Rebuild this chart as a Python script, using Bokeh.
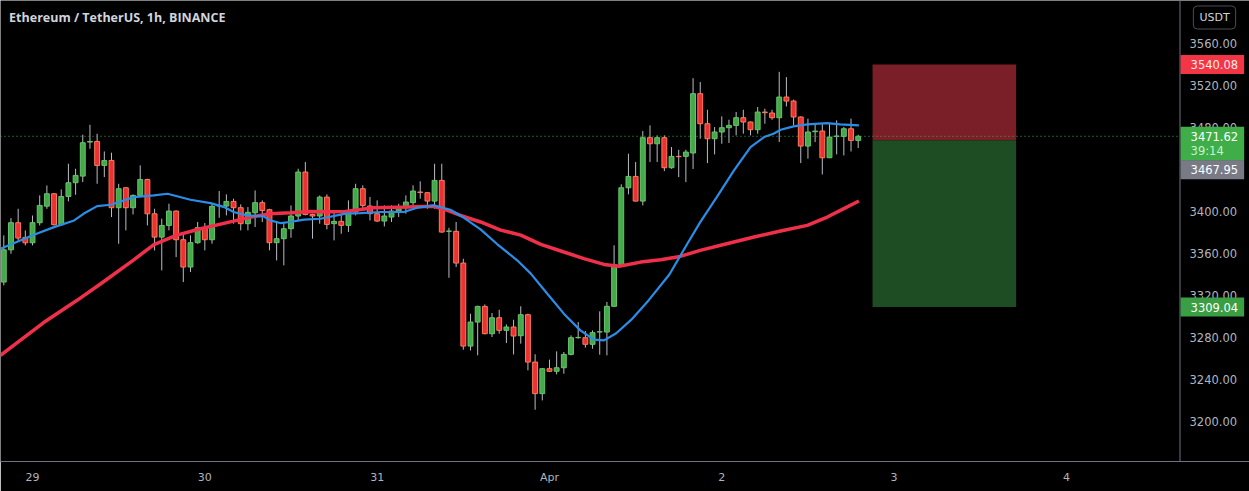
from bokeh.plotting import figure
from bokeh.models import (Range1d, LinearAxis, FixedTicker, Label, Span,
                          NumeralTickFormatter, ColumnDataSource)
from bokeh.embed import file_html
from bokeh.resources import INLINE

# ---------------- data ----------------
# hour index: 0 = 29 Mar 00:00 (1h candles, ETH/USDT)
hours = list(range(-4, 116))
opens = [3332.8, 3363.5, 3389.3, 3375.3, 3370.2, 3389.3, 3405.1, 3416.9, 3387.4, 3414.3,
         3427.4, 3433.7, 3466.1, 3466.7, 3443.9, 3448.6, 3403.6, 3422.6, 3403.6, 3415.3,
         3430.5, 3397.8, 3375.6, 3386.7, 3400.4, 3373.1, 3347.1, 3370.3, 3384.6, 3373.1,
         3405.2, 3405.2, 3409.6, 3403.6, 3388.4, 3398.8, 3408.4, 3401.7, 3370.3, 3374.1,
         3383.6, 3395.7, 3437.6, 3397.2, 3395.7, 3413.7, 3388.4, 3390.6, 3386.8, 3399.5,
         3421.7, 3405.2, 3397.9, 3390.9, 3394.7, 3400.4, 3403.6, 3408.4, 3418.5, 3417.9,
         3409.9, 3429.6, 3381.1, 3381.1, 3350.9, 3271.8, 3294.7, 3309.6, 3283.6, 3298.8,
         3286.8, 3290.0, 3281.7, 3301.7, 3256.6, 3226.5, 3250.3, 3247.8, 3251.2, 3263.9,
         3279.8, 3279.8, 3273.5, 3285.2, 3285.2, 3309.7, 3349.3, 3422.6, 3433.4, 3409.9,
         3470.3, 3464.5, 3470.3, 3441.7, 3452.5, 3452.5, 3455.7, 3512.2, 3483.6, 3469.3,
         3475.7, 3479.8, 3482.0, 3489.3, 3485.2, 3477.9, 3494.7, 3493.8, 3489.3, 3509.0,
         3505.2, 3490.0, 3462.3, 3476.0, 3476.6, 3451.2, 3471.5, 3471.5, 3478.8, 3467.7]
highs = [3377.2, 3393.7, 3402.6, 3382.0, 3396.2, 3415.3, 3424.8, 3417.5, 3421.0, 3445.5,
         3440.7, 3473.1, 3482.6, 3474.0, 3457.2, 3456.0, 3426.4, 3423.2, 3416.3, 3443.9,
         3431.2, 3402.6, 3393.1, 3407.4, 3401.0, 3378.9, 3377.3, 3390.0, 3389.0, 3407.4,
         3419.5, 3416.3, 3412.2, 3406.8, 3404.2, 3420.1, 3410.6, 3402.6, 3390.0, 3390.0,
         3405.8, 3440.7, 3447.1, 3397.9, 3415.3, 3416.3, 3399.5, 3397.9, 3410.6, 3426.4,
         3424.9, 3413.8, 3410.6, 3405.8, 3405.8, 3407.4, 3415.3, 3424.9, 3428.7, 3418.5,
         3445.5, 3445.5, 3384.5, 3390.0, 3355.0, 3302.6, 3310.3, 3311.5, 3303.3, 3306.4,
         3292.5, 3296.9, 3309.7, 3302.7, 3264.0, 3250.9, 3258.9, 3266.8, 3266.2, 3282.0,
         3294.7, 3286.2, 3286.8, 3304.9, 3313.8, 3367.8, 3425.9, 3455.0, 3447.1, 3476.6,
         3482.0, 3472.5, 3472.5, 3461.4, 3458.8, 3458.8, 3527.0, 3523.3, 3496.9, 3480.4,
         3490.6, 3487.4, 3494.7, 3496.9, 3485.8, 3499.5, 3497.9, 3496.9, 3533.0, 3528.0,
         3506.5, 3490.6, 3488.4, 3483.6, 3483.6, 3483.6, 3486.8, 3480.4, 3488.4, 3473.1]
lows = [3329.6, 3359.7, 3372.4, 3367.7, 3367.7, 3386.7, 3402.6, 3386.7, 3386.7, 3409.6,
        3415.9, 3428.0, 3459.8, 3426.4, 3432.8, 3394.7, 3369.3, 3382.0, 3397.2, 3413.7,
        3386.7, 3362.9, 3343.9, 3382.0, 3356.6, 3332.8, 3342.3, 3369.3, 3363.0, 3369.3,
        3394.0, 3396.3, 3388.4, 3382.0, 3382.0, 3385.2, 3390.0, 3363.0, 3353.4, 3348.7,
        3375.0, 3391.5, 3396.3, 3374.1, 3388.4, 3383.0, 3372.5, 3378.8, 3380.4, 3396.3,
        3401.0, 3391.5, 3390.0, 3385.8, 3390.0, 3394.7, 3397.9, 3402.6, 3412.2, 3402.6,
        3402.6, 3379.8, 3336.9, 3347.1, 3268.3, 3267.7, 3263.0, 3283.0, 3280.4, 3283.6,
        3274.7, 3263.9, 3274.1, 3248.7, 3211.2, 3220.1, 3247.1, 3244.9, 3245.5, 3263.0,
        3278.9, 3270.3, 3269.3, 3263.6, 3263.0, 3309.0, 3347.8, 3416.3, 3409.6, 3405.8,
        3447.1, 3447.1, 3438.5, 3440.7, 3432.8, 3428.0, 3440.5, 3469.3, 3446.1, 3454.4,
        3464.5, 3465.2, 3472.5, 3474.1, 3472.5, 3474.1, 3483.6, 3487.4, 3466.1, 3500.1,
        3482.0, 3446.1, 3450.3, 3466.1, 3435.3, 3450.9, 3454.4, 3453.4, 3457.2, 3460.4]
closes = [3363.5, 3389.3, 3374.7, 3370.2, 3389.3, 3405.8, 3416.9, 3387.4, 3414.3, 3427.4,
          3434.4, 3465.5, 3466.7, 3443.9, 3448.6, 3403.6, 3421.7, 3403.6, 3415.3, 3430.5,
          3397.8, 3375.6, 3386.7, 3400.4, 3373.1, 3347.1, 3370.3, 3384.6, 3373.1, 3404.9,
          3405.8, 3409.6, 3403.6, 3388.4, 3399.2, 3408.4, 3401.0, 3370.3, 3374.1, 3383.6,
          3395.7, 3437.6, 3397.2, 3395.7, 3413.7, 3387.7, 3390.6, 3386.8, 3399.5, 3421.7,
          3405.8, 3397.9, 3390.9, 3395.7, 3400.4, 3403.6, 3409.0, 3419.5, 3418.2, 3409.9,
          3429.6, 3380.4, 3381.4, 3350.9, 3271.8, 3294.7, 3309.6, 3283.6, 3298.8, 3286.8,
          3290.0, 3281.4, 3301.7, 3256.6, 3226.5, 3250.3, 3247.8, 3251.2, 3263.9, 3279.8,
          3280.1, 3273.5, 3284.6, 3285.5, 3309.7, 3349.3, 3422.6, 3433.4, 3409.9, 3470.3,
          3464.5, 3470.3, 3441.7, 3452.5, 3452.2, 3456.6, 3512.2, 3483.6, 3469.3, 3475.7,
          3479.8, 3482.0, 3489.3, 3485.2, 3477.9, 3494.7, 3494.1, 3489.3, 3509.0, 3505.2,
          3490.0, 3462.3, 3475.7, 3476.6, 3451.2, 3470.9, 3471.9, 3478.8, 3467.7, 3471.62]

# moving averages (hour index, price)
fast_ma_x = [-4.46, 0.2, 3, 5.8, 7.1, 9, 10.9, 14.1, 16.9, 18.8, 22, 24.8, 26.7, 28, 29.9,
             32.2, 33.1, 34.5, 35.9, 37.8, 40.1, 43.6, 45.7, 48.5, 51.7, 53.6, 55.9, 58.2,
             60.1, 62.4, 64.7, 67.5, 69.4, 71.7, 74, 76.3, 78.2, 79.6, 81.3, 83.4, 85.8,
             88.7, 91.2, 93, 95.3, 97.7, 100, 101.9, 103.2, 104.2, 106, 107.9, 110.7, 112.5, 115.1]
fast_ma_y = [3364.5, 3377.8, 3385.1, 3391.5, 3397.8, 3405.1, 3406.4, 3413.7, 3415.3, 3416.9,
             3411.2, 3408.0, 3404.2, 3399.5, 3396.3, 3395.3, 3391.5, 3389.0, 3390.0, 3392.2,
             3393.1, 3397.9, 3398.5, 3399.5, 3399.5, 3403.6, 3405.8, 3401.7, 3394.0, 3383.0,
             3369.0, 3353.5, 3340.8, 3321.7, 3302.7, 3286.8, 3277.9, 3277.3, 3284.0, 3297.0,
             3315.3, 3340.0, 3369.3, 3389.9, 3413.7, 3439.1, 3461.4, 3470.9, 3474.1, 3477.9,
             3481.1, 3483.0, 3484.2, 3483.0, 3482.0]
slow_ma_x = [-4.46, 1.5, 6.2, 9.5, 14.1, 16.9, 20.1, 23.4, 28, 30.4, 33.1, 35.9, 38.7, 41.5,
             43.6, 47.5, 52.2, 55.9, 57.8, 59.6, 62.4, 65.2, 68, 70.8, 74, 76.8, 79.6, 81.7,
             84.7, 87.5, 90.2, 93, 96.7, 100.5, 104.2, 107.9, 110.7, 113, 115.1]
slow_ma_y = [3263.0, 3294.0, 3315.4, 3331.2, 3354.0, 3368.5, 3377.5, 3383.6, 3390.8, 3394.7,
             3397.9, 3398.8, 3400.1, 3399.8, 3400.0, 3403.6, 3404.2, 3404.9, 3401.0, 3396.3,
             3390.0, 3382.3, 3377.5, 3368.7, 3361.4, 3355.1, 3349.6, 3347.8, 3351.8, 3354.1,
             3357.2, 3363.0, 3369.3, 3375.7, 3381.4, 3386.8, 3394.7, 3402.7, 3410.0]

day_ticks = [0, 24, 48, 72, 96, 120, 144]
day_labels = ["29", "30", "31", "Apr", "2", "3", "4"]
price_ticks = [3200, 3240, 3280, 3320, 3360, 3400, 3440, 3480, 3520, 3560]

stop_price = 3540.08
entry_price = 3467.95
target_price = 3309.04
last_price = 3471.62
countdown = "39:14"
position_start = 117
position_end = 137
title_text = "Ethereum / TetherUS, 1h, BINANCE"
currency = "USDT"

# ---------------- figure ----------------
FONT = "DejaVu Sans"
PX = 164.21 / 1179.0            # hour units per pixel
x0 = -4.46
x1 = x0 + 1249 * PX             # frame spans whole width; price scale drawn at right
scale_x = x0 + 1179.5 * PX      # price-scale border
y0, y1 = 3161.9, 3600.95

p = figure(width=1249, height=491, output_backend="svg", toolbar_location=None,
           x_range=Range1d(x0, x1), y_range=Range1d(y0, y1),
           x_axis_location=None, y_axis_location=None,
           min_border_left=0, min_border_top=0, min_border_right=0, min_border_bottom=30,
           background_fill_color="#000000", border_fill_color="#000000",
           outline_line_color=None)
p.grid.visible = False

xaxis = LinearAxis(ticker=FixedTicker(ticks=day_ticks),
                   major_label_overrides={t: l for t, l in zip(day_ticks, day_labels)})
yaxis = LinearAxis(ticker=FixedTicker(ticks=price_ticks),
                   formatter=NumeralTickFormatter(format="0.00"))
for ax in (xaxis, yaxis):
    ax.axis_line_color = "#6f7280"
    ax.major_tick_line_color = None
    ax.minor_tick_line_color = None
    ax.major_tick_out = 0
    ax.major_tick_in = 0
    ax.major_label_text_color = "#b2b5be"
    ax.major_label_text_font = FONT
    ax.major_label_text_font_size = "11px"
yaxis.axis_line_color = None
yaxis.major_label_text_font_size = "11.5px"
xaxis.major_label_standoff = 9
yaxis.major_label_standoff = -60
p.add_layout(xaxis, "below")
p.add_layout(yaxis, "right")

# price scale border
p.add_layout(Span(location=scale_x, dimension="height", line_color="#6f7280", line_width=1))

# candles
up = [c >= o for o, c in zip(opens, closes)]
src = ColumnDataSource(dict(
    x=hours, o=opens, h=highs, l=lows, c=closes,
    top=[max(o, c) for o, c in zip(opens, closes)],
    bot=[min(o, c) for o, c in zip(opens, closes)],
    fill=["#45a84a" if u else "#eb3131" for u in up],
    edge=["#66c46a" if u else "#ff7b5a" for u in up],
))
p.segment(x0="x", y0="l", x1="x", y1="h", source=src, line_color="#b8bcc4", line_width=1)
p.vbar(x="x", width=0.68, top="top", bottom="bot", source=src,
       fill_color="fill", line_color="edge", line_width=1)

# moving averages
p.line(slow_ma_x, slow_ma_y, line_color="#f0304a", line_width=3.5)
p.line(fast_ma_x, fast_ma_y, line_color="#2a8ee8", line_width=2.2)

# short position tool
p.quad(left=[position_start, position_start], right=[position_end, position_end],
       top=[stop_price, entry_price], bottom=[entry_price, target_price],
       fill_color=["#7a1e27", "#1f4d23"], line_color=None)

# last price dotted line (up to the price scale)
p.segment(x0=[x0], y0=[last_price], x1=[scale_x], y1=[last_price],
          line_color="#4caf50", line_dash="1 3", line_width=1)

# title
p.add_layout(Label(x=x0 + 1.2, y=y1 - 17.5 / 1.05, text=title_text, text_baseline="middle",
                   text_align="left", text_color="#d1d4dc", text_font="Open Sans",
                   text_font_size="12.5px", text_font_style="bold"))

# axis price tags
lab_x = scale_x + 0.6 * PX

def tag(price, text, bg, color="#ffffff", y_off=0, bottom_pad=5):
    p.add_layout(Label(x=lab_x, y=price, text=text, y_offset=y_off,
                       text_baseline="middle", text_align="left",
                       text_color=color, text_font=FONT, text_font_size="11.5px",
                       background_fill_color=bg,
                       padding=dict(left=10, right=6, top=5, bottom=bottom_pad)))

tag(stop_price, f"{stop_price:.2f}", "#f23645", color="#ffe9ea")
tag(last_price, f"{last_price:.2f}", "#3fae49", y_off=-7.5, bottom_pad=20)
p.add_layout(Label(x=lab_x, y=last_price, text=countdown, y_offset=-15,
                   text_baseline="middle", text_align="left", x_offset=10,
                   text_color="#c9f2cb", text_font=FONT, text_font_size="11.5px"))
tag(entry_price, f"{entry_price:.2f}", "#787b86", y_off=-29.5)
tag(target_price, f"{target_price:.2f}", "#3a9e43")

# currency badge
p.add_layout(Label(x=x0 + 1214 * PX, y=y1 - 17 / 1.05, text=currency, text_baseline="middle",
                   text_align="center", text_color="#d1d4dc", text_font=FONT,
                   text_font_size="11px", border_line_color="#4a4d57",
                   border_radius=4, padding=dict(left=6, right=6, top=5, bottom=5)))

open("out.html", "w").write(file_html(p, INLINE))
